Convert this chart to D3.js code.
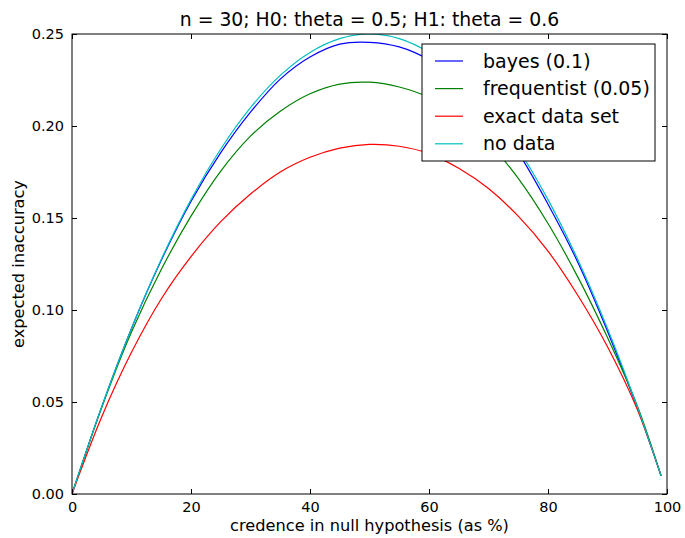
<!DOCTYPE html>
<html>
<head>
<meta charset="utf-8">
<script src="https://cdn.jsdelivr.net/npm/d3@7"></script>
<style>
  body { margin: 0; background: #fff; }
  svg { display: block; font-family: "DejaVu Sans", sans-serif; }
</style>
</head>
<body>
<div id="chart"></div>
<script>
// values
const credence = [0, 5, 10, 15, 20, 25, 30, 35, 40, 45, 50, 55, 60, 65, 70, 75, 80, 85, 90, 95, 99];
const bayes = [0, 0.0475, 0.09, 0.127, 0.159, 0.1855, 0.2075, 0.2255, 0.2375, 0.2445, 0.2455, 0.243, 0.236, 0.2245, 0.2075, 0.1855, 0.1575, 0.126, 0.0885, 0.047, 0.0099];
const frequentist = [0, 0.047, 0.088, 0.122, 0.151, 0.1755, 0.1945, 0.208, 0.2175, 0.2228, 0.2238, 0.2212, 0.2155, 0.2055, 0.191, 0.1715, 0.147, 0.118, 0.085, 0.048, 0.0099];
const exactData = [0, 0.042, 0.077, 0.106, 0.129, 0.148, 0.163, 0.175, 0.183, 0.188, 0.19, 0.189, 0.185, 0.177, 0.166, 0.151, 0.132, 0.108, 0.08, 0.046, 0.0099];
const noData = [0, 0.0475, 0.09, 0.1275, 0.16, 0.1875, 0.21, 0.2275, 0.24, 0.2475, 0.25, 0.2475, 0.24, 0.2275, 0.21, 0.1875, 0.16, 0.1275, 0.09, 0.0475, 0.0099];

const seriesNames = ["bayes (0.1)", "frequentist (0.05)", "exact data set", "no data"];
const seriesColors = ["#0000ff", "#008000", "#ff0000", "#00bfbf"];
const seriesValues = [bayes, frequentist, exactData, noData];

const xTicks = [0, 20, 40, 60, 80, 100];
const yTicks = [0, 0.05, 0.1, 0.15, 0.2, 0.25];

const width = 685, height = 538;
const margin = { top: 34, right: 18, bottom: 44, left: 72 };
const iw = width - margin.left - margin.right;
const ih = height - margin.top - margin.bottom;

const svg = d3.select("#chart").append("svg")
    .attr("width", width)
    .attr("height", height);

const x = d3.scaleLinear().domain([0, 100]).range([0, iw]);
const y = d3.scaleLinear().domain([0, 0.25]).range([ih, 0]);

const g = svg.append("g").attr("transform", `translate(${margin.left},${margin.top})`);

// curves
const line = d3.line()
    .x((d, i) => x(credence[i]))
    .y(d => y(d))
    .curve(d3.curveCatmullRom);

g.append("defs").append("clipPath").attr("id", "clip")
    .append("rect").attr("width", iw).attr("height", ih);

g.append("g").attr("clip-path", "url(#clip)")
    .selectAll("path")
    .data(seriesValues)
    .join("path")
    .attr("fill", "none")
    .attr("stroke", (d, i) => seriesColors[i])
    .attr("stroke-width", 1.2)
    .attr("d", line);

// axes, matplotlib classic style: ticks inside on all four sides
const tickFont = "14.5px";
const xAxis = g.append("g").attr("transform", `translate(0,${ih})`)
    .call(d3.axisBottom(x).tickValues(xTicks).tickSizeInner(-5).tickSizeOuter(0).tickPadding(8));
const xTop = g.append("g")
    .call(d3.axisTop(x).tickValues(xTicks).tickSizeInner(-5).tickSizeOuter(0).tickFormat(""));
const yAxis = g.append("g")
    .call(d3.axisLeft(y).tickValues(yTicks).tickSizeInner(-5).tickSizeOuter(0).tickPadding(8).tickFormat(d3.format(".2f")));
const yRight = g.append("g").attr("transform", `translate(${iw},0)`)
    .call(d3.axisRight(y).tickValues(yTicks).tickSizeInner(-5).tickSizeOuter(0).tickFormat(""));

[xAxis, xTop, yAxis, yRight].forEach(a => {
    a.select(".domain").remove();
    a.selectAll("line").attr("stroke", "#000");
    a.selectAll("text").attr("fill", "#000").style("font-size", tickFont).style("font-family", "DejaVu Sans");
});

g.append("rect")
    .attr("width", iw).attr("height", ih)
    .attr("fill", "none").attr("stroke", "#000").attr("stroke-width", 1);

// title and axis labels
svg.append("text")
    .attr("x", margin.left + iw / 2).attr("y", 26)
    .attr("text-anchor", "middle")
    .style("font-size", "18.8px")
    .text("n = 30; H0: theta = 0.5; H1: theta = 0.6");

svg.append("text")
    .attr("x", margin.left + iw / 2).attr("y", 531)
    .attr("text-anchor", "middle")
    .style("font-size", "16.2px")
    .text("credence in null hypothesis (as %)");

svg.append("text")
    .attr("transform", `translate(24,${margin.top + ih / 2}) rotate(-90)`)
    .attr("text-anchor", "middle")
    .style("font-size", "16.2px")
    .text("expected inaccuracy");

// legend
const lg = svg.append("g").attr("transform", "translate(422,44)");
lg.append("rect")
    .attr("width", 233).attr("height", 117)
    .attr("fill", "#fff").attr("stroke", "#000").attr("stroke-width", 1);
const rows = lg.selectAll("g.row")
    .data(seriesNames)
    .join("g")
    .attr("class", "row")
    .attr("transform", (d, i) => `translate(0,${17 + i * 27.6})`);
rows.append("line")
    .attr("x1", 13).attr("x2", 41)
    .attr("stroke", (d, i) => seriesColors[i])
    .attr("stroke-width", 1.2);
rows.append("text")
    .attr("x", 61).attr("dy", "0.35em")
    .style("font-size", "19px")
    .text(d => d);
</script>
</body>
</html>
